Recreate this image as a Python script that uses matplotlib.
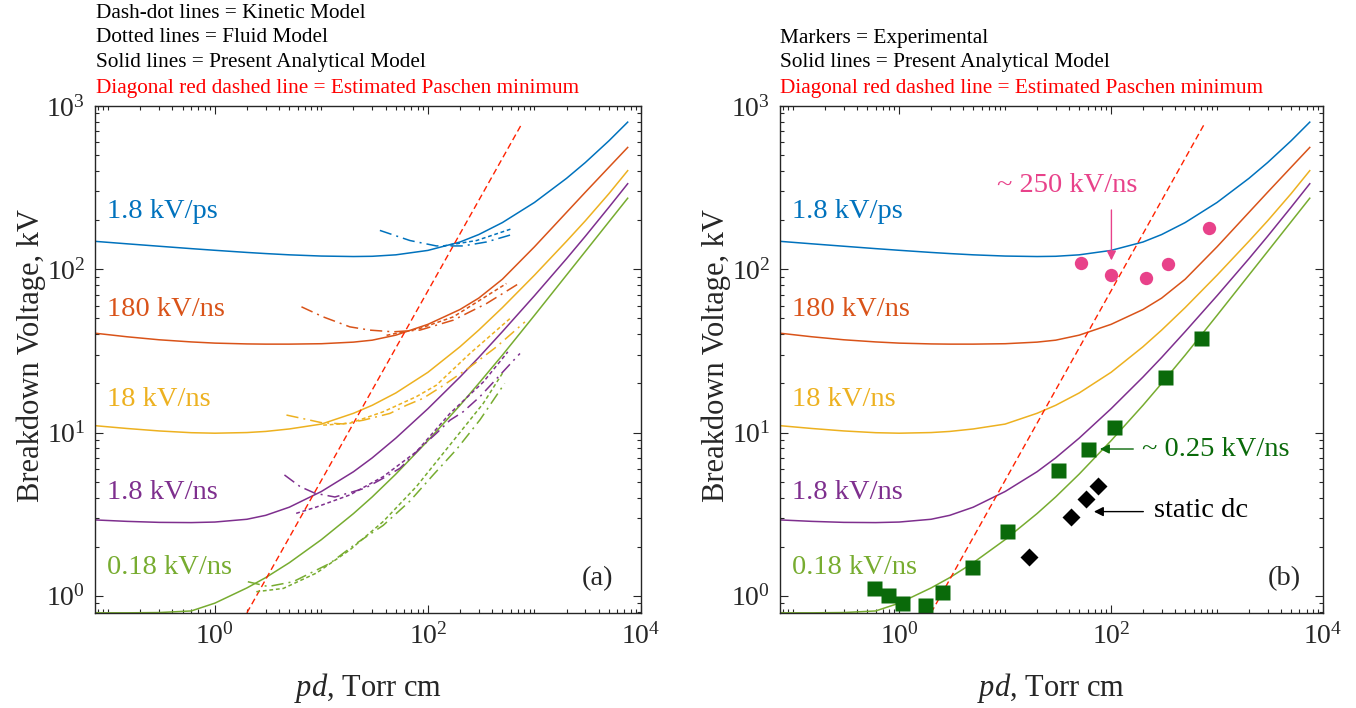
import numpy as np
import matplotlib
matplotlib.use('Agg')
import matplotlib.pyplot as plt
from matplotlib.ticker import LogLocator, NullFormatter, LogFormatterSciNotation

plt.rcParams['font.family'] = ['Liberation Serif', 'DejaVu Serif']
plt.rcParams['mathtext.fontset'] = 'custom'
plt.rcParams['mathtext.rm'] = 'Liberation Serif'
plt.rcParams['mathtext.it'] = 'Liberation Serif:italic'

W, H = 1356, 708

# analytical model (solid lines), same in both panels
pd_model = [0.075, 0.15, 0.3, 0.6, 1, 2, 3, 5, 10, 20, 30, 50, 100, 200, 300, 500,
            1000, 2000, 3000, 5000, 7500]
v_1p8_kvps = [148.3, 143.2, 138.4, 133.8, 130.7, 126.8, 124.8, 122.6, 120.5, 119.7, 120.1,
              122.6, 130.5, 146.9, 163.2, 193.2, 256.6, 360.5, 450.4, 612.2, 796.5]
v_180_kvns = [40.6, 38.6, 37.0, 35.9, 35.3, 34.9, 34.8, 34.8, 35.0, 35.8, 36.8, 39.5, 46.0,
              56.7, 66.6, 86.9, 137.3, 223.1, 296.3, 421.6, 557.5]
v_18_kvns = [11.02, 10.59, 10.23, 9.98, 9.91, 10.0, 10.16, 10.52, 11.27, 13.12, 14.69, 17.48,
             23.39, 33.54, 42.42, 58.24, 92.02, 148.5, 198.0, 290.5, 401.8]
v_1p8_kvns = [2.917, 2.858, 2.818, 2.809, 2.831, 2.944, 3.112, 3.491, 4.355, 5.754, 6.998,
              9.247, 14.0, 21.88, 28.84, 41.5, 68.87, 116.1, 159.2, 239.9, 334.2]
v_0p18_kvns = [0.787, 0.787, 0.79, 0.808, 0.902, 1.118, 1.293, 1.595, 2.209, 3.189, 4.035,
               5.568, 8.92, 14.69, 20.0, 29.79, 52.22, 92.18, 128.5, 195.4, 272.4]

# kinetic model (dash-dot), panel (a)
kin_pd_1p8_kvps = [35.4, 67.8, 120, 214, 355, 611]
kin_v_1p8_kvps = [173, 150, 139, 139, 147, 163]
kin_pd_180_kvns = [6.5, 10.4, 18.5, 28.5, 47.2, 84.1, 173, 355, 731]
kin_v_180_kvns = [58.9, 51.1, 44.4, 42.4, 41.4, 42.4, 48.8, 61.7, 82.6]
kin_pd_18_kvns = [4.7, 7.0, 10, 15.8, 24.7, 44, 63, 90, 134, 248, 440, 813]
kin_v_18_kvns = [12.8, 12.1, 11.5, 11.3, 11.9, 13.1, 14.7, 16.2, 19.1, 25.2, 33.5, 47.6]
kin_pd_1p8_kvns = [4.5, 6.3, 8.7, 13.4, 25.6, 38, 54.6, 87, 120, 161, 214, 308, 731]
kin_v_1p8_kvns = [5.5, 4.67, 4.25, 4.03, 4.56, 5.25, 6.04, 8.18, 9.89, 11.9, 13.4, 16.6, 30.5]
kin_pd_0p18_kvns = [2.04, 3.16, 5.43, 12, 21.4, 38, 67.6, 112, 186, 309, 525]
kin_v_0p18_kvns = [1.22, 1.14, 1.22, 1.58, 2.1, 2.7, 3.8, 5.5, 7.9, 12.0, 20.0]

# fluid model (dotted), panel (a)
fl_pd_1p8_kvps = [139, 286, 611]
fl_v_1p8_kvps = [139, 150, 177]
fl_pd_180_kvns = [40.9, 84.1, 173, 545]
fl_v_180_kvns = [39.4, 43.4, 51.1, 81.8]
fl_pd_18_kvns = [10.4, 18.5, 38, 78, 120, 248, 589]
fl_v_18_kvns = [11.1, 11.4, 13.4, 16.6, 19.5, 30.5, 49.9]
fl_pd_1p8_kvns = [5.8, 9.0, 18.5, 38, 78, 161, 331, 562]
fl_v_1p8_kvns = [3.2, 3.5, 4.15, 5.37, 7.64, 13.1, 20.4, 31.2]
fl_pd_0p18_kvns = [2.45, 4.39, 9.0, 18.5, 38, 78, 161, 331, 501]
fl_v_0p18_kvns = [1.06, 1.11, 1.38, 1.91, 2.85, 4.67, 8.4, 15.1, 23.1]

# estimated Paschen minimum (red dashed)
paschen_pd = [2.0, 764]
paschen_v = [0.787, 782]

# experimental, panel (b)
exp_pd_250 = [52.5, 100.7, 212, 347, 841]
exp_v_250 = [110, 92.8, 89, 107, 179]
exp_pd_025 = [0.58, 0.79, 1.06, 1.76, 2.53, 4.85, 10.4, 31.8, 61.1, 107, 321, 708]
exp_v_025 = [1.11, 1.01, 0.90, 0.88, 1.05, 1.50, 2.50, 5.90, 7.89, 10.8, 21.8, 37.7]
dc_pd = [16.8, 41.7, 57.7, 75.9]
dc_v = [1.73, 3.03, 3.92, 4.73]

labels = ['1.8 kV/ps', '180 kV/ns', '18 kV/ns', '1.8 kV/ns', '0.18 kV/ns']
colors = ['#0072BD', '#D95319', '#EDB120', '#7E2F8E', '#77AC30']
label_y = [0.791, 0.598, 0.422, 0.237, 0.089]

solid = [v_1p8_kvps, v_180_kvns, v_18_kvns, v_1p8_kvns, v_0p18_kvns]
kinetic = [(kin_pd_1p8_kvps, kin_v_1p8_kvps), (kin_pd_180_kvns, kin_v_180_kvns),
           (kin_pd_18_kvns, kin_v_18_kvns), (kin_pd_1p8_kvns, kin_v_1p8_kvns),
           (kin_pd_0p18_kvns, kin_v_0p18_kvns)]
fluid = [(fl_pd_1p8_kvps, fl_v_1p8_kvps), (fl_pd_180_kvns, fl_v_180_kvns),
         (fl_pd_18_kvns, fl_v_18_kvns), (fl_pd_1p8_kvns, fl_v_1p8_kvns),
         (fl_pd_0p18_kvns, fl_v_0p18_kvns)]

pink = '#E8428A'
dkgreen = '#0A6A0A'


def setup_axes(ax):
    ax.set_xscale('log')
    ax.set_yscale('log')
    ax.set_xlim(0.075, 1e4)
    ax.set_ylim(0.785, 1e3)
    ax.xaxis.set_major_locator(LogLocator(base=100, numticks=10))
    ax.xaxis.set_major_formatter(LogFormatterSciNotation(base=10))
    ax.xaxis.set_minor_locator(LogLocator(base=10, subs=np.arange(1, 10), numticks=20))
    ax.xaxis.set_minor_formatter(NullFormatter())
    ax.yaxis.set_major_locator(LogLocator(base=10, numticks=10))
    ax.yaxis.set_minor_locator(LogLocator(base=10, subs=np.arange(2, 10), numticks=20))
    ax.yaxis.set_minor_formatter(NullFormatter())
    ax.tick_params(which='both', direction='in', top=True, right=True,
                   color='#262626', width=0.8, labelsize=20, labelcolor='#262626')
    ax.tick_params(which='major', length=5.5)
    ax.tick_params(which='minor', length=3)
    ax.tick_params(axis='x', pad=7)
    ax.tick_params(axis='y', pad=7)
    for s in ax.spines.values():
        s.set_color('#262626')
        s.set_linewidth(1.0)


def draw_solid(ax):
    for v, c, lab, ly in zip(solid, colors, labels, label_y):
        ax.plot(pd_model, v, '-', color=c, lw=1.1)
        ax.text(0.022, ly, lab, color=c, fontsize=20.5, transform=ax.transAxes,
                ha='left', va='center')
    ax.plot(paschen_pd, paschen_v, color='#FF2200', lw=1.0, dashes=(4.5, 2.6))


fig = plt.figure(figsize=(W / 100, H / 100), dpi=100)
ax1 = fig.add_axes([95 / W, 95 / H, 546 / W, 507 / H])
ax2 = fig.add_axes([780 / W, 95 / H, 543 / W, 507 / H])

# panel (a)
setup_axes(ax1)
draw_solid(ax1)
for (px, py), (fx, fy), c in zip(kinetic, fluid, colors):
    ax1.plot(px, py, color=c, lw=1.1, dashes=(8, 3.3, 1.3, 3.3))
    ax1.plot(fx, fy, color=c, lw=1.1, dashes=(2.5, 1.8))
ax1.text(0.921, 0.067, '(a)', fontsize=20.5, transform=ax1.transAxes,
         ha='center', va='center', color='#262626')

# panel (b)
setup_axes(ax2)
draw_solid(ax2)
ax2.plot(exp_pd_250, exp_v_250, 'o', color=pink, ms=9.6, mec='none')
ax2.plot(exp_pd_025, exp_v_025, 's', color=dkgreen, ms=10.8, mec='none')
ax2.plot(dc_pd, dc_v, 'D', color='black', ms=9.0, mec='none')
ax2.text(0.928, 0.067, '(b)', fontsize=20.5, transform=ax2.transAxes,
         ha='center', va='center', color='#262626')

ax2.annotate('', xy=(100.7, 109), xytext=(100.7, 240),
             arrowprops=dict(arrowstyle='-|>', color=pink, lw=1.0, mutation_scale=14))
ax2.text(38.5, 327, '~ 250 kV/ns', color=pink, fontsize=20.5, ha='center', va='center')
ax2.annotate('', xy=(73.8, 7.93), xytext=(172, 7.93),
             arrowprops=dict(arrowstyle='-|>', color=dkgreen, lw=1.0, mutation_scale=14))
ax2.text(196, 7.93, '~ 0.25 kV/ns', color=dkgreen, fontsize=20.5, ha='left', va='center')
ax2.annotate('', xy=(64.8, 3.28), xytext=(214, 3.28),
             arrowprops=dict(arrowstyle='-|>', color='black', lw=1.0, mutation_scale=14))
ax2.text(255, 3.31, 'static dc', color='black', fontsize=20.5, ha='left', va='center')

# axis labels
for x0 in [31, 716]:
    fig.text(x0 / W, 1 - 356 / H, 'Breakdown Voltage, kV', rotation=90, fontsize=22,
             ha='center', va='center', color='#262626')
for xc in [368, 1051]:
    fig.text(xc / W, 1 - 688 / H, '$pd$, Torr cm', fontsize=22, ha='center', va='center',
             color='#262626')

# header notes
notes_a = [('Dash-dot lines = Kinetic Model', 'black'),
           ('Dotted lines = Fluid Model', 'black'),
           ('Solid lines = Present Analytical Model', 'black'),
           ('Diagonal red dashed line = Estimated Paschen minimum', 'red')]
notes_b = [('Markers = Experimental', 'black'),
           ('Solid lines = Present Analytical Model', 'black'),
           ('Diagonal red dashed line = Estimated Paschen minimum', 'red')]
for i, (t, c) in enumerate(notes_a):
    fig.text(96 / W, 1 - (13 + 25 * i) / H, t, fontsize=15.3, color=c, ha='left', va='center')
for i, (t, c) in enumerate(notes_b):
    fig.text(780 / W, 1 - (38 + 25 * i) / H, t, fontsize=15.3, color=c, ha='left', va='center')

fig.savefig('out.png', dpi=100)
